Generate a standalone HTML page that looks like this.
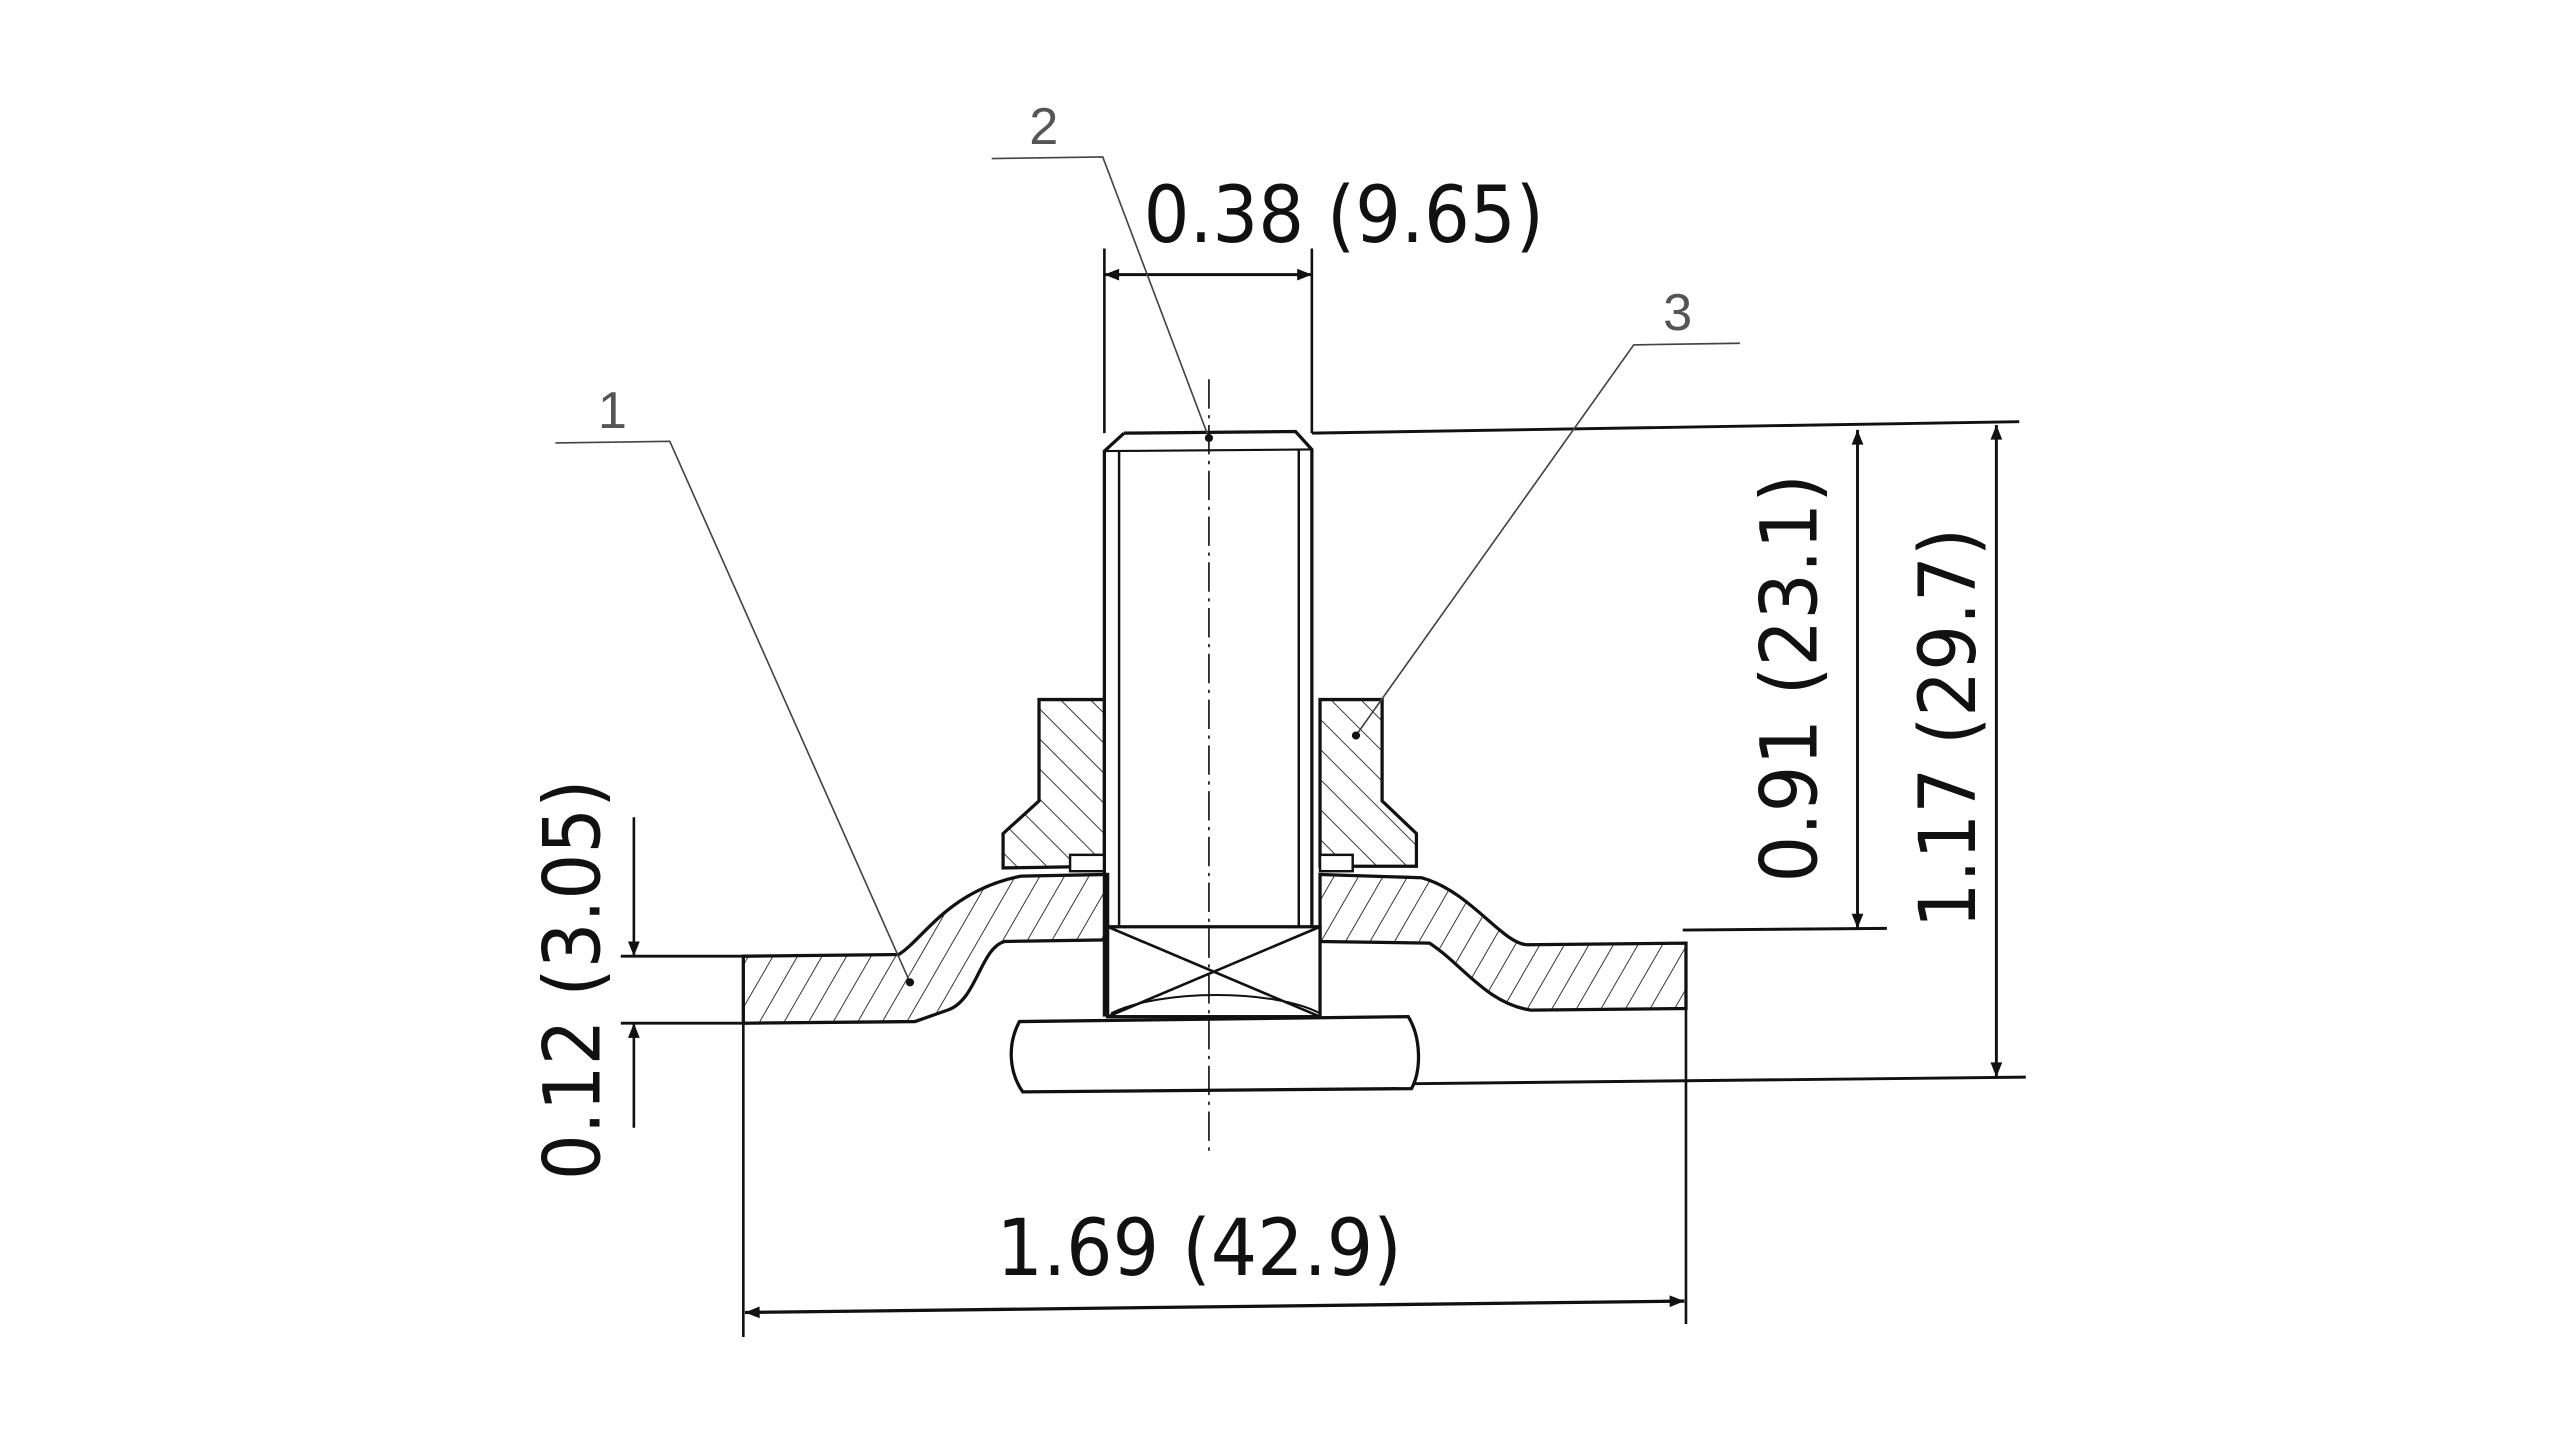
<!DOCTYPE html>
<html><head><meta charset="utf-8"><style>html,body{margin:0;padding:0;background:#fff}svg{display:block}</style></head>
<body>
<svg width="2560" height="1440" viewBox="0 0 1567 881" preserveAspectRatio="none" xmlns="http://www.w3.org/2000/svg">
<defs>
<pattern id="hb" patternUnits="userSpaceOnUse" width="13" height="13" patternTransform="rotate(-45)"><line x1="0" y1="0" x2="0" y2="13" stroke="#222" stroke-width="1.1"/></pattern>
<pattern id="hf" patternUnits="userSpaceOnUse" width="13" height="13" patternTransform="rotate(30)"><line x1="0" y1="0" x2="0" y2="13" stroke="#222" stroke-width="1.1"/></pattern>
<marker id="a" viewBox="0 0 10 10" refX="10" refY="5" markerWidth="20" markerHeight="9" markerUnits="userSpaceOnUse" orient="auto-start-reverse"><path d="M0,1 L10,5 L0,9 z" fill="#111"/></marker>
</defs>
<g fill="none" stroke="#111" stroke-width="2">
<path d="M455,585 L550,584 C565,575 580,545 625,536 L678,535 L678,575 L615,576 C600,580 598,612 580,618 L560,625 L455,626 Z" fill="url(#hf)"/>
<path d="M808,535 L870,537 C900,545 920,578 935,578 L1032,577 L1032,617 L937,618 C910,614 895,590 875,577 L808,576 Z" fill="url(#hf)"/>
<path d="M636,428 L676,428 L676,530 L614,531 L614,510 L636,490 Z" fill="url(#hb)"/>
<path d="M808,428 L846,428 L846,490 L867,510 L867,530 L808,530 Z" fill="url(#hb)"/>
<rect x="655" y="523" width="21" height="10" fill="#fff" stroke-width="1.5"/>
<rect x="808" y="523" width="20" height="10" fill="#fff" stroke-width="1.5"/>
<path d="M688,265 L793,264 L803,275 L803,622 M688,265 L676,276 L676,622"/>
<line x1="676" y1="276" x2="803" y2="275" stroke-width="1.3"/>
<line x1="685" y1="276" x2="685" y2="567" stroke-width="1.5"/>
<line x1="795" y1="275" x2="795" y2="567" stroke-width="1.5"/>
<rect x="678" y="567" width="130" height="55" fill="#fff"/>
<path d="M678,567 L808,622 M808,567 L678,622" stroke-width="1.6"/>
<path d="M624,625 L862,622 C870,635 870,655 864,666 L626,668 C617,655 617,638 624,625 Z" fill="#fff"/>
<path d="M680,620 C710,605 780,605 808,620" stroke-width="1.2"/>
<path d="M740,232 L740,705" stroke-width="1" stroke-dasharray="18,4,2,4"/>
<line x1="676" y1="152" x2="676" y2="265" stroke-width="1.6"/>
<line x1="803" y1="152" x2="803" y2="265" stroke-width="1.6"/>
<line x1="676" y1="168" x2="803" y2="168" stroke-width="1.8" marker-start="url(#a)" marker-end="url(#a)"/>
<line x1="803" y1="265" x2="1236" y2="258" stroke-width="1.8"/>
<line x1="1030" y1="569" x2="1155" y2="568" stroke-width="1.8"/>
<line x1="866" y1="663" x2="1240" y2="659" stroke-width="1.8"/>
<line x1="1137" y1="263" x2="1137" y2="568" stroke-width="1.8" marker-start="url(#a)" marker-end="url(#a)"/>
<line x1="1222" y1="260" x2="1222" y2="659" stroke-width="1.8" marker-start="url(#a)" marker-end="url(#a)"/>
<line x1="380" y1="585" x2="455" y2="585" stroke-width="1.8"/>
<line x1="380" y1="626" x2="455" y2="626" stroke-width="1.8"/>
<line x1="388" y1="500" x2="388" y2="585" stroke-width="1.6" marker-end="url(#a)"/>
<line x1="388" y1="690" x2="388" y2="626" stroke-width="1.6" marker-end="url(#a)"/>
<line x1="455" y1="626" x2="455" y2="818" stroke-width="1.6"/>
<line x1="1032" y1="617" x2="1032" y2="810" stroke-width="1.6"/>
<line x1="456" y1="803" x2="1031" y2="796" stroke-width="2" marker-start="url(#a)" marker-end="url(#a)"/>
<g stroke-width="1" stroke="#444">
<path d="M340,271 L410,270 L557,601"/>
<path d="M607,97 L675,96 L740,268"/>
<path d="M1065,210 L1000,211 L830,450"/>
</g>
</g>
<g fill="#111"><circle cx="557" cy="601" r="2.5"/><circle cx="740" cy="268" r="2.5"/><circle cx="830" cy="450" r="2.5"/></g>
<g font-family="'Liberation Sans Narrow','Liberation Sans',sans-serif" fill="#555" font-size="32" font-weight="100">
<text x="366" y="262">1</text><text x="630" y="88">2</text><text x="1018" y="202">3</text>
</g>
<g font-family="'DejaVu Sans','Liberation Sans',sans-serif" fill="#111" font-size="48">
<text x="700" y="148" textLength="245" lengthAdjust="spacingAndGlyphs">0.38 (9.65)</text>
<text x="610" y="780" textLength="248" lengthAdjust="spacingAndGlyphs">1.69 (42.9)</text>
<text transform="translate(1112,540) rotate(-90)" textLength="250" lengthAdjust="spacingAndGlyphs">0.91 (23.1)</text>
<text transform="translate(1209,568) rotate(-90)" textLength="245" lengthAdjust="spacingAndGlyphs">1.17 (29.7)</text>
<text transform="translate(367,722) rotate(-90)" textLength="245" lengthAdjust="spacingAndGlyphs">0.12 (3.05)</text>
</g>
</svg>
</body></html>
